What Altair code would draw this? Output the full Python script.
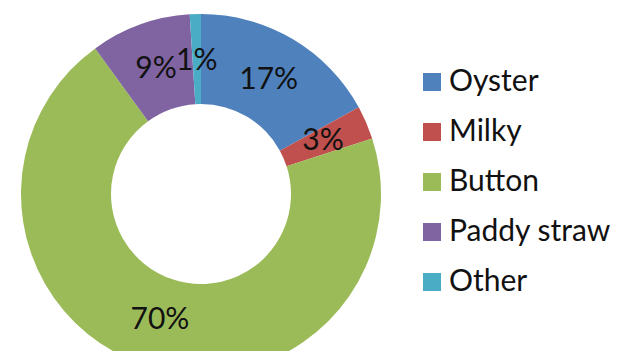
import altair as alt
import pandas as pd

categories = ["Oyster", "Milky", "Button", "Paddy straw", "Other"]
values = [17, 3, 70, 9, 1]
labels = ["17%", "3%", "70%", "9%", "1%"]
colors = ["#4F81BD", "#C0504D", "#9BBB59", "#8064A2", "#4BACC6"]

df = pd.DataFrame({
    "category": categories,
    "value": values,
    "label": labels,
    "order": list(range(len(categories))),
})

cx, cy = 193, 186

base = alt.Chart(df).encode(
    theta=alt.Theta("value:Q", stack=True),
    order=alt.Order("order:Q"),
)

arc = base.mark_arc(outerRadius=180, innerRadius=90).encode(
    x=alt.value(cx),
    y=alt.value(cy),
    color=alt.Color(
        "category:N",
        scale=alt.Scale(domain=categories, range=colors),
        sort=categories,
        legend=alt.Legend(
            orient="none",
            legendX=409,
            legendY=59,
            title=None,
            symbolType="square",
            symbolSize=324,
            symbolStrokeWidth=0,
            labelFontSize=30,
            labelFont="Lato",
            labelColor="#111111",
            labelOffset=2,
            labelLimit=0,
            rowPadding=20,
            padding=0,
        ),
    ),
)

text = base.mark_text(radius=133, fontSize=30, font="Lato", color="#111111").encode(
    x=alt.value(cx),
    y=alt.value(cy),
    text="label:N",
)

chart = (
    alt.layer(arc, text)
    .properties(width=609, height=343, padding=0, background="white",
                autosize=alt.AutoSizeParams(type="none"))
    .configure_view(strokeWidth=0)
)

chart.save("out.html", embed_options={"renderer": "svg", "actions": False})
